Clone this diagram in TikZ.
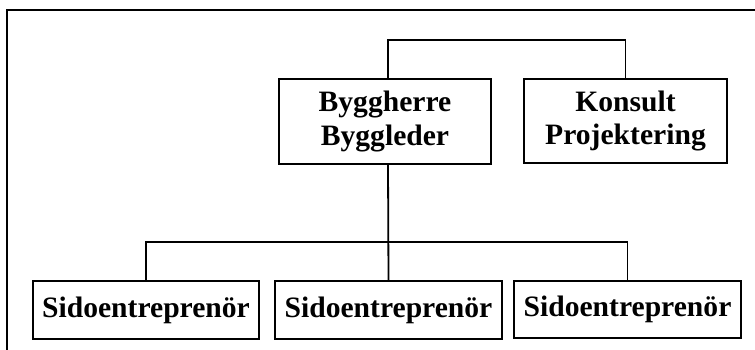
\documentclass[tikz,border=0pt]{standalone}
\usepackage{fontspec}
\setmainfont{Liberation Serif}
\begin{document}
\begin{tikzpicture}[x=1pt,y=-1pt,
  orgbox/.style={draw=black,line width=1.8pt,fill=white,align=center,inner sep=0pt,
    font=\fontsize{29.6}{33.5}\selectfont\bfseries},
  link/.style={draw=black,line width=1.8pt}]
\useasboundingbox (0,0) rectangle (755,349);
% open frame: top and left edges only
\draw[line width=2.6pt,line cap=rect] (755,10) -- (7,10) -- (7,349);

\node[orgbox,minimum width=212,minimum height=85] (bh) at (385,121.5) {Byggherre\\Byggleder};
\node[orgbox,minimum width=203,minimum height=84] (ko) at (625.5,121) {Konsult\\Projektering};
\node[orgbox,minimum width=226,minimum height=58] (s1) at (146,310) {Sidoentreprenör};
\node[orgbox,minimum width=227,minimum height=58] (s2) at (388.5,310) {Sidoentreprenör};
\node[orgbox,minimum width=227,minimum height=57] (s3) at (627.5,309.5) {Sidoentreprenör};

% consultant branch
\draw[link] ([xshift=3pt]bh.north) -- ++(0,-38) -| (ko.north);
% contractor branches
\draw[link] ([xshift=3pt]bh.south) -- (s2.north);
\draw[link] (s1.north) -- ++(0,-38) -| (s3.north);
\end{tikzpicture}
\end{document}
